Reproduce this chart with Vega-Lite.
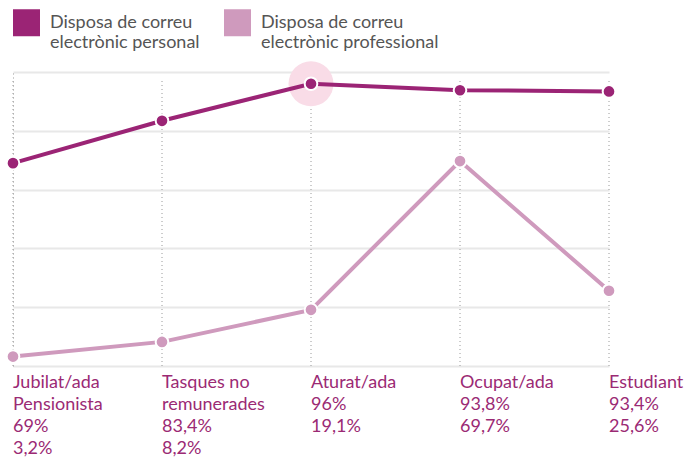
{
  "$schema": "https://vega.github.io/schema/vega-lite/v6.json",
  "autosize": {"type": "none"},
  "padding": {"left": 13, "top": 72, "right": 91, "bottom": 95},
  "width": 596,
  "height": 294,
  "background": "white",
  "config": {
    "view": {"stroke": null},
    "font": "Lato",
    "axisY": {"title": null, "labels": false, "ticks": false, "grid": true, "gridColor": "#e8e8e8", "gridWidth": 2,
      "domain": true, "domainColor": "#9a9a9a", "domainDash": [1, 3], "domainWidth": 1, "labelOverlap": false}
  },
  "data": {"values": [
    {"cat": "Jubilat/ada Pensionista", "nom": "Jubilat/ada\nPensionista", "personal": 69, "professional": 3.2, "destacat": false},
    {"cat": "Tasques no remunerades", "nom": "Tasques no\nremunerades", "personal": 83.4, "professional": 8.2, "destacat": false},
    {"cat": "Aturat/ada", "nom": "Aturat/ada", "personal": 96, "professional": 19.1, "destacat": true},
    {"cat": "Ocupat/ada", "nom": "Ocupat/ada", "personal": 93.8, "professional": 69.7, "destacat": false},
    {"cat": "Estudiant", "nom": "Estudiant", "personal": 93.4, "professional": 25.6, "destacat": false}
  ]},
  "encoding": {
    "x": {"field": "cat", "type": "nominal", "sort": null, "scale": {"type": "point", "padding": 0}, "axis": null}
  },
  "layer": [
    {
      "mark": {"type": "rule", "color": "#9a9a9a", "strokeWidth": 1, "strokeDash": [1, 3]},
      "encoding": {
        "y": {"datum": 0, "type": "quantitative", "scale": {"domain": [0, 100], "nice": false},
          "axis": {"title": null, "values": [0, 20, 40, 60, 80, 100], "labelOverlap": false}},
        "y2": {"datum": 97}
      }
    },
    {
      "transform": [{"filter": "datum.destacat"}],
      "mark": {"type": "point", "shape": "circle", "filled": true, "size": 2025, "color": "#f9dce7", "opacity": 1},
      "encoding": {"y": {"field": "personal", "type": "quantitative"}}
    },
    {
      "transform": [{"fold": ["personal", "professional"], "as": ["serie", "valor"]}],
      "mark": {"type": "line", "strokeWidth": 4},
      "encoding": {
        "y": {"field": "valor", "type": "quantitative"},
        "color": {"field": "serie", "type": "nominal",
          "scale": {"domain": ["personal", "professional"], "range": ["#9b2475", "#cf9abd"]},
          "legend": {"orient": "none", "legendX": 0, "legendY": -63, "direction": "horizontal", "columns": 2,
            "title": null, "symbolType": "square", "symbolSize": 729, "symbolStrokeWidth": 0, "symbolOpacity": 1,
            "labelFontSize": 18, "labelColor": "#555555", "labelLimit": 0, "labelOffset": 10,
            "labelExpr": "['Disposa de correu', 'electrònic ' + datum.label]", "labelLineHeight": 21,
            "columnPadding": 24}}
      }
    },
    {
      "transform": [{"fold": ["personal", "professional"], "as": ["serie", "valor"]}],
      "mark": {"type": "point", "shape": "circle", "filled": true, "size": 160, "stroke": "white", "strokeWidth": 2, "opacity": 1},
      "encoding": {
        "y": {"field": "valor", "type": "quantitative"},
        "fill": {"field": "serie", "type": "nominal", "scale": {"domain": ["personal", "professional"], "range": ["#9b2475", "#cf9abd"]}, "legend": null}
      }
    },
    {
      "transform": [{"calculate": "datum.nom + '\\n' + replace(format(datum.personal, '.1~f'), '.', ',') + '%\\n' + replace(format(datum.professional, '.1~f'), '.', ',') + '%'", "as": "etiqueta"}],
      "mark": {"type": "text", "align": "left", "baseline": "top", "dy": 8, "fontSize": 18, "lineHeight": 22, "lineBreak": "\n", "color": "#9b2a74"},
      "encoding": {
        "y": {"datum": 0, "type": "quantitative"},
        "text": {"field": "etiqueta"}
      }
    }
  ]
}
